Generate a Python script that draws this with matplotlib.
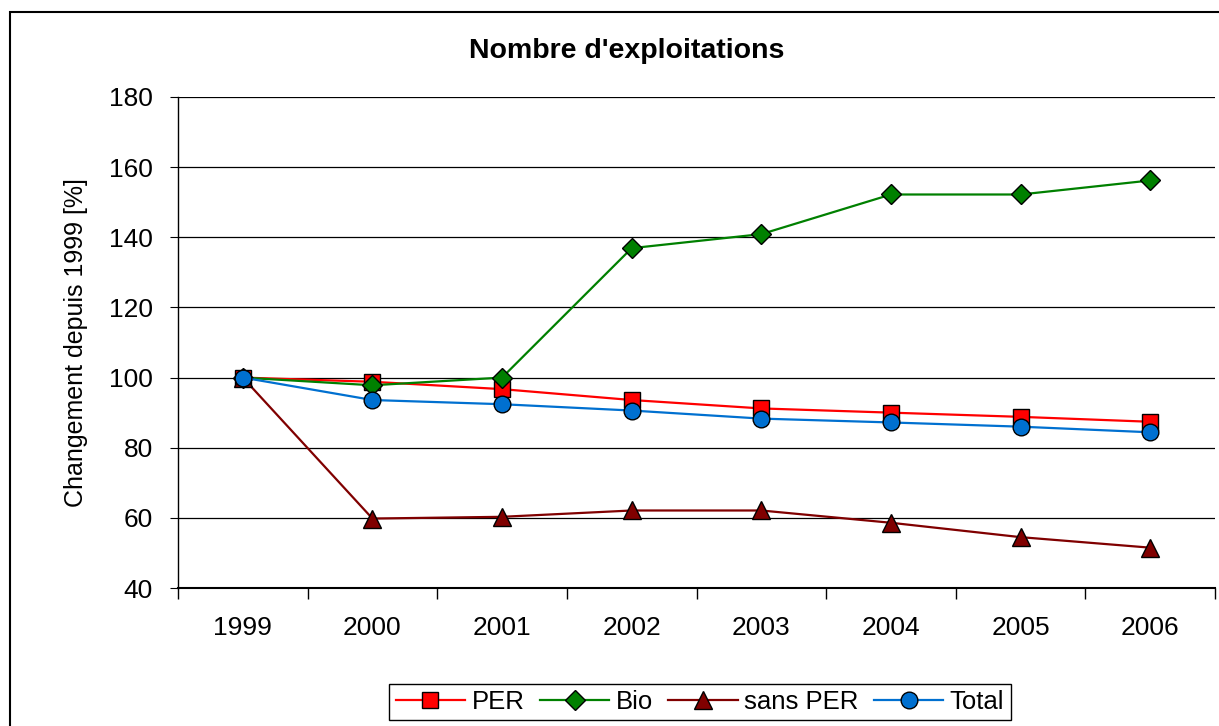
import matplotlib.pyplot as plt
import matplotlib.patches as patches
import numpy as np

plt.rcParams['font.family'] = ['Liberation Sans', 'DejaVu Sans']

years = ['1999', '2000', '2001', '2002', '2003', '2004', '2005', '2006']
per = [100, 98.8, 96.7, 93.6, 91.2, 90.0, 88.8, 87.4]
bio = [100, 97.8, 100.0, 136.9, 140.9, 152.2, 152.2, 156.2]
sans_per = [100, 59.8, 60.3, 62.1, 62.1, 58.6, 54.5, 51.5]
total = [100, 93.6, 92.4, 90.6, 88.3, 87.2, 86.0, 84.4]

fig = plt.figure(figsize=(12.19, 7.26), dpi=100)

# outer chart border
fig.patches.append(patches.Rectangle((10 / 1219, -0.1), 1.2, (726 - 12) / 726 + 0.1,
                                     transform=fig.transFigure, fill=False,
                                     edgecolor='black', linewidth=1.5))

ax = fig.add_axes([178 / 1219, (726 - 588) / 726, (1215 - 178) / 1219, (588 - 97) / 726])

x = np.arange(len(years))
ax.plot(x, per, color='#FF0000', lw=1.6, marker='s', ms=12, mfc='#FF0000', mec='black', mew=1, label='PER', zorder=3)
ax.plot(x, bio, color='#008000', lw=1.6, marker='D', ms=10, mfc='#008000', mec='black', mew=1, label='Bio', zorder=3)
ax.plot(x, sans_per, color='#800000', lw=1.6, marker='^', ms=13, mfc='#800000', mec='black', mew=1, label='sans PER', zorder=3)
ax.plot(x, total, color='#0070D0', lw=1.6, marker='o', ms=12, mfc='#0070D0', mec='black', mew=1, label='Total', zorder=4)

ax.set_xlim(-0.5, 7.5)
ax.set_ylim(40, 180)
ax.set_yticks(np.arange(40, 181, 20))
ax.yaxis.grid(True, color='black', lw=0.9)
ax.set_axisbelow(True)

ax.set_xticks(x)
ax.set_xticklabels(years, fontsize=19)
ax.set_xticks(np.arange(-0.5, 8, 1), minor=True)
ax.tick_params(axis='x', which='major', length=0, pad=20)
ax.tick_params(axis='x', which='minor', length=8, direction='out', width=1)
ax.tick_params(axis='y', length=6, direction='out', labelsize=19, pad=12)

for s in ['top', 'right']:
    ax.spines[s].set_visible(False)
ax.spines['left'].set_linewidth(1)
ax.spines['bottom'].set_linewidth(1.5)

ax.set_ylabel('Changement depuis 1999 [%]', fontsize=18, labelpad=15)
fig.text(627 / 1219, (726 - 51) / 726, "Nombre d'exploitations", fontsize=20.5,
         fontweight='bold', ha='center', va='center')

leg = fig.legend(loc='center', bbox_to_anchor=(700 / 1219, 24 / 726), ncol=4,
                 fontsize=18.5, fancybox=False, edgecolor='black', framealpha=1,
                 handlelength=2.7, columnspacing=0.6, handletextpad=0.25,
                 borderpad=0.25)
leg.get_frame().set_linewidth(1)

plt.savefig('out.png', dpi=100)
